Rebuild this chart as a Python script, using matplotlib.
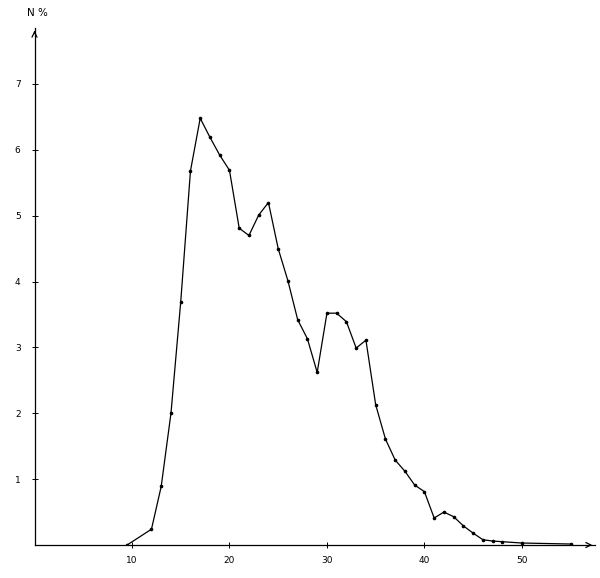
import matplotlib
matplotlib.use("Agg")
import matplotlib.pyplot as plt

# Data (age-like x, percentage N %)
x_vals = [9.5, 12, 13, 14, 15, 16, 17, 18, 19, 20, 21, 22, 23, 24, 25, 26, 27,
          28, 29, 30, 31, 32, 33, 34, 35, 36, 37, 38, 39, 40, 41, 42, 43, 44,
          45, 46, 47, 48, 50, 55]
y_vals = [0.0, 0.24, 0.89, 2.0, 3.69, 5.68, 6.48, 6.19, 5.92, 5.69, 4.81, 4.70,
          5.01, 5.20, 4.50, 4.01, 3.42, 3.13, 2.62, 3.52, 3.52, 3.39, 2.99, 3.11,
          2.13, 1.61, 1.29, 1.12, 0.91, 0.81, 0.41, 0.50, 0.43, 0.29, 0.18, 0.08,
          0.06, 0.05, 0.03, 0.015]
x_ticks = [10, 20, 30, 40, 50]
y_ticks = [1, 2, 3, 4, 5, 6, 7]
y_label = "N %"

fig = plt.figure(figsize=(6.0, 5.78), dpi=100)
ax = fig.add_axes([34.5 / 600, 33 / 578, 560.5 / 600, 517 / 578])
ax.set_xlim(0, 57.5)
ax.set_ylim(0, 7.85)

ax.plot(x_vals, y_vals, color="black", lw=0.9, marker="o", ms=1.6,
        mec="black", mfc="black")

for s in ["top", "right"]:
    ax.spines[s].set_visible(False)
for s in ["left", "bottom"]:
    ax.spines[s].set_linewidth(0.9)

ax.set_xticks(x_ticks)
ax.set_yticks(y_ticks)
ax.set_xticklabels([str(v) for v in x_ticks])
ax.set_yticklabels([str(v) for v in y_ticks])
ax.tick_params(axis="both", direction="inout", length=4, width=0.7,
               labelsize=6.5, colors="black")
ax.tick_params(axis="x", pad=6)
ax.tick_params(axis="y", pad=8)

# open chevron arrowheads at axis ends
ax.annotate("", xy=(1.0, 0), xytext=(0.985, 0), xycoords="axes fraction",
            arrowprops=dict(arrowstyle="->", color="black", lw=0.9,
                            mutation_scale=9), annotation_clip=False)
ax.annotate("", xy=(0, 1.0), xytext=(0, 0.985), xycoords="axes fraction",
            arrowprops=dict(arrowstyle="->", color="black", lw=0.9,
                            mutation_scale=9), annotation_clip=False)

fig.text(27 / 600, 1 - 13 / 578, y_label, fontsize=7.5, ha="left", va="center")

fig.savefig("out.png", dpi=100)
